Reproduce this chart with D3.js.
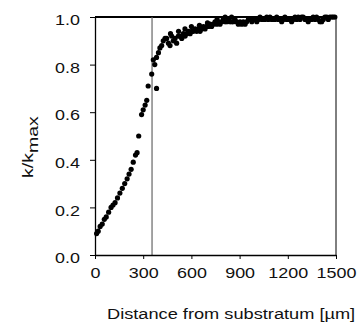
<!DOCTYPE html>
<html>
<head>
<meta charset="utf-8">
<script src="https://cdn.jsdelivr.net/npm/d3@7"></script>
<style>
  html, body { margin: 0; padding: 0; background: #fff; }
  text { font-family: "Liberation Sans", Arial, sans-serif; fill: #111; }
</style>
</head>
<body>
<div id="chart"></div>
<script>
// k/kmax profile vs distance from substratum
const distance = [10, 20, 32, 45, 58, 70, 85, 100, 112, 125, 140, 155, 170, 185, 200, 212, 225, 238, 252, 262, 272,
  290, 300, 312, 322, 331, 383, 353, 363, 372, 383, 395, 404, 415, 425, 436, 446, 457, 467, 477, 487, 498, 508,
  519, 529, 540, 550, 561, 571, 582, 592, 602, 612, 623, 633, 644, 654, 664, 675, 685, 695, 706, 716, 726, 736,
  747, 757, 767, 778, 788, 798, 809, 820, 830, 840, 851, 861, 871, 882, 892, 903, 913, 923, 934, 944, 955, 965,
  976, 986, 996, 1007, 1017, 1027, 1038, 1048, 1058, 1069, 1079, 1089, 1100, 1110, 1120, 1131, 1141, 1151, 1162,
  1172, 1182, 1193, 1203, 1214, 1224, 1234, 1245, 1255, 1265, 1276, 1286, 1296, 1307, 1317, 1327, 1338, 1348,
  1358, 1369, 1379, 1390, 1400, 1411, 1421, 1431, 1442, 1452, 1462, 1473, 1483, 1493,
  470, 520, 560, 600, 650, 700, 760, 810, 850];
const kRatio = [0.09, 0.10, 0.12, 0.13, 0.15, 0.16, 0.18, 0.20, 0.21, 0.22, 0.24, 0.26, 0.28, 0.30, 0.32, 0.34, 0.36,
  0.39, 0.42, 0.43, 0.50, 0.59, 0.61, 0.63, 0.65, 0.71, 0.70, 0.76, 0.82, 0.80, 0.83, 0.85, 0.87, 0.88, 0.90, 0.91,
  0.91, 0.89, 0.88, 0.92, 0.90, 0.91, 0.89, 0.92, 0.92, 0.91, 0.93, 0.92, 0.93, 0.94, 0.93, 0.94, 0.94, 0.95, 0.94,
  0.95, 0.94, 0.95, 0.96, 0.95, 0.96, 0.96, 0.97, 0.96, 0.97, 0.98, 0.97, 0.98, 0.97, 0.98, 0.99, 0.98, 0.98, 0.99,
  0.98, 0.98, 0.98, 0.99, 0.98, 0.97, 0.98, 0.97, 0.98, 0.97, 0.98, 0.99, 0.99, 0.98, 0.99, 0.99, 0.98, 0.99, 1.00,
  0.99, 0.99, 0.99, 1.00, 0.99, 1.00, 0.99, 0.99, 0.99, 1.00, 0.99, 0.99, 0.98, 0.99, 1.00, 0.99, 0.99, 0.99, 0.98,
  0.99, 1.00, 0.99, 1.00, 0.99, 1.00, 1.00, 0.99, 0.99, 0.98, 0.99, 0.99, 1.00, 0.99, 1.00, 0.99, 0.98, 0.98, 0.99,
  1.00, 1.00, 0.99, 1.00, 1.00, 1.00, 1.00,
  0.93, 0.94, 0.95, 0.96, 0.965, 0.975, 0.99, 1.00, 1.00];
const xTicks = [0, 300, 600, 900, 1200, 1500];
const yTicks = [0, 0.2, 0.4, 0.6, 0.8, 1.0];
const markerDistance = [355];

const width = 364, height = 323;
const margin = { top: 17, right: 28, bottom: 68, left: 95 };
const stretch = 1.28; // scanned text is wide

const svg = d3.select('#chart').append('svg')
  .attr('width', width)
  .attr('height', height);

const x = d3.scaleLinear().domain([0, 1500]).range([margin.left, width - margin.right]);
const y = d3.scaleLinear().domain([0, 1]).range([height - margin.bottom, margin.top]);

function widen(sel, k) {
  sel.each(function () {
    const len = this.getComputedTextLength();
    d3.select(this).attr('textLength', len * k).attr('lengthAdjust', 'spacingAndGlyphs');
  });
}

// frame: top (heavy) and right
svg.append('line')
  .attr('x1', x(0)).attr('x2', x(1500))
  .attr('y1', y(1)).attr('y2', y(1))
  .attr('stroke', '#000').attr('stroke-width', 2.2);
svg.append('line')
  .attr('x1', x(1500)).attr('x2', x(1500))
  .attr('y1', y(1)).attr('y2', y(0))
  .attr('stroke', '#000').attr('stroke-width', 1);

// vertical marker line
svg.selectAll('line.marker')
  .data(markerDistance)
  .join('line')
  .attr('class', 'marker')
  .attr('x1', d => x(d)).attr('x2', d => x(d))
  .attr('y1', y(1)).attr('y2', y(0))
  .attr('stroke', '#666').attr('stroke-width', 1.2);

const xAxis = svg.append('g')
  .attr('transform', `translate(0,${y(0)})`)
  .call(d3.axisBottom(x).tickValues(xTicks).tickFormat(d3.format('d')).tickSize(4).tickSizeOuter(0));
xAxis.select('.domain').attr('stroke', '#000').attr('stroke-width', 1.3);
xAxis.selectAll('.tick line').attr('stroke', '#000');
xAxis.selectAll('.tick text')
  .attr('y', 13)
  .attr('dy', '0.71em')
  .style('font-size', '14px')
  .attr('fill', '#111')
  .call(widen, stretch);

const yAxis = svg.append('g')
  .attr('transform', `translate(${x(0)},0)`)
  .call(d3.axisLeft(y).tickValues(yTicks).tickFormat(d3.format('.1f')).tickSize(5).tickSizeOuter(0));
yAxis.select('.domain').attr('stroke', '#000').attr('stroke-width', 1.3);
yAxis.selectAll('.tick line').attr('stroke', '#000');
yAxis.selectAll('.tick text')
  .attr('x', -15)
  .attr('dy', '0.55em')
  .style('font-size', '14px')
  .attr('fill', '#111')
  .call(widen, stretch);

// data points
svg.append('g')
  .selectAll('circle')
  .data(distance.map((d, i) => [d, kRatio[i]]))
  .join('circle')
  .attr('cx', d => x(d[0]))
  .attr('cy', d => y(d[1]))
  .attr('r', 2.6)
  .attr('fill', '#000');

// axis titles
svg.append('text')
  .attr('x', 107)
  .attr('y', 319)
  .style('font-size', '14px')
  .text('Distance from substratum [µm]')
  .call(widen, 1.3);

const yLabel = svg.append('text')
  .attr('transform', 'translate(33,178) rotate(-90)')
  .style('font-size', '15px');
yLabel.append('tspan').text('k/k');
yLabel.append('tspan').attr('dy', 5).text('max');
widen(yLabel, 1.3);
</script>
</body>
</html>
